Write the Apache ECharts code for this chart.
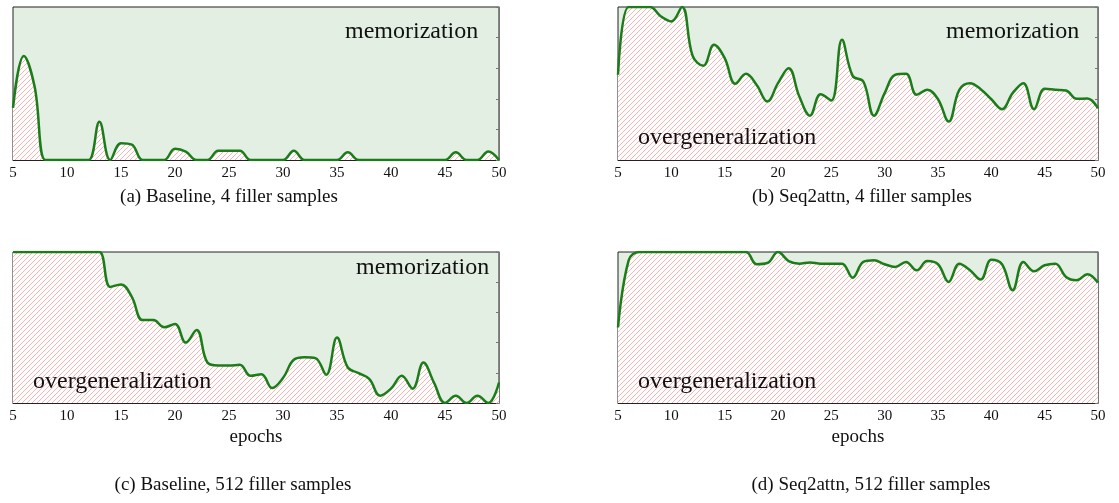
<!DOCTYPE html>
<html>
<head>
<meta charset="utf-8">
<script src="https://cdn.jsdelivr.net/npm/echarts@6/dist/echarts.min.js"></script>
<style>
  html, body { margin: 0; padding: 0; background: #fff; }
  #main { width: 1119px; height: 503px; }
</style>
</head>
<body>
<div id="main"></div>
<script>
// epochs on the x axis
var epochs = [5,6,7,8,9,10,11,12,13,14,15,16,17,18,19,20,21,22,23,24,25,26,27,28,29,30,
  31,32,33,34,35,36,37,38,39,40,41,42,43,44,45,46,47,48,49,50];
var xTicks = [5,10,15,20,25,30,35,40,45,50];

// (a) Baseline, 4 filler samples
var baseline4 = [0.34,0.68,0.48,0,0,0,0,0,0.25,0,0.11,0.10,0,0,0,0.074,0.055,0,0,0.06,
  0.06,0.06,0,0,0,0,0.06,0,0,0,0,0.05,0,0,0,0,0,0,0,0,0,0.05,0,0,0.055,0];
// (b) Seq2attn, 4 filler samples
var seq2attn4 = [0.557,1,1,1,0.94,0.906,1,0.68,0.616,0.753,0.666,0.498,0.563,0.49,0.382,
  0.502,0.60,0.415,0.29,0.43,0.389,0.786,0.55,0.513,0.29,0.437,0.557,0.563,0.426,0.459,
  0.397,0.251,0.459,0.502,0.463,0.397,0.332,0.437,0.502,0.332,0.465,0.459,0.454,0.40,0.402,0.338];
// (c) Baseline, 512 filler samples
var baseline512 = [1,1,1,1,1,1,1,1,1,0.769,0.785,0.703,0.549,0.549,0.501,0.523,0.40,0.484,
  0.268,0.248,0.248,0.253,0.18,0.191,0.099,0.165,0.286,0.303,0.297,0.187,0.433,0.235,0.198,
  0.158,0.048,0.095,0.18,0.095,0.268,0.132,0,0.048,0,0.048,0,0.136];
// (d) Seq2attn, 512 filler samples
var seq2attn512 = [0.50,0.945,1,1,1,1,1,1,1,1,1,1,1,0.919,0.927,1,0.94,0.923,0.93,0.923,
  0.923,0.923,0.83,0.934,0.945,0.919,0.901,0.934,0.879,0.94,0.919,0.802,0.923,0.879,0.818,
  0.949,0.919,0.747,0.934,0.872,0.912,0.923,0.835,0.813,0.853,0.796];

var captions = ['(a) Baseline, 4 filler samples', '(b) Seq2attn, 4 filler samples',
  '(c) Baseline, 512 filler samples', '(d) Seq2attn, 512 filler samples'];

var serif = '"Liberation Serif", "DejaVu Serif", serif';
var green = '#1a7d1a';
var bgGreen = '#e3efe2';

// light red diagonal hatching for the area under the curve
function hatch(){
  var s = 5;
  var c = document.createElement('canvas');
  c.width = s; c.height = s;
  var ctx = c.getContext('2d');
  ctx.fillStyle = '#ffffff';
  ctx.fillRect(0, 0, s, s);
  ctx.fillStyle = '#ffb0b0';
  for (var x = 0; x < s; x++) {
    ctx.fillRect(x, s - 1 - x, 1, 1);
  }
  return c.toDataURL();
}
var hatchImg = new Image();
hatchImg.src = hatch();

function pairs(vals){
  return epochs.map(function(e, i){ return [e, vals[i]]; });
}

var grids = [
  {left: 13, top: 7, width: 486, height: 153},
  {left: 618, top: 7, width: 480, height: 153},
  {left: 13, top: 252, width: 486, height: 151},
  {left: 618, top: 252, width: 480, height: 151}
];
var allData = [baseline4, seq2attn4, baseline512, seq2attn512];

function label(txt, left, top){
  return {type: 'text', left: left, top: top, z: 100,
    style: {text: txt, font: '24px ' + serif, fill: '#111'}};
}
function caption(txt, x, y){
  return {type: 'text', x: x, y: y, z: 100,
    style: {text: txt, font: '19px ' + serif, fill: '#111', align: 'center', verticalAlign: 'middle'}};
}

function draw(){
  var option = {
    animation: false,
    backgroundColor: '#fff',
    grid: grids.map(function(g){
      return Object.assign({show: true, backgroundColor: bgGreen, borderColor: '#222', borderWidth: 1}, g);
    }),
    xAxis: grids.map(function(g, i){
      return {
        type: 'value', gridIndex: i, min: 5, max: 50, interval: 5,
        axisLine: {show: true, onZero: false, lineStyle: {color: '#222', width: 1}},
        axisTick: {show: false},
        splitLine: {show: false},
        axisLabel: {fontFamily: serif, fontSize: 15, color: '#111', margin: 6,
          customValues: xTicks},
        name: i >= 2 ? 'epochs' : '',
        nameLocation: 'middle', nameGap: 25,
        nameTextStyle: {fontFamily: serif, fontSize: 19, color: '#111'}
      };
    }),
    yAxis: grids.map(function(g, i){
      return {
        type: 'value', gridIndex: i, min: 0, max: 1, interval: 0.2, position: 'right',
        axisLine: {show: true, lineStyle: {color: '#777'}},
        axisTick: {show: true, inside: true, length: 3, lineStyle: {color: '#777'}},
        axisLabel: {show: false},
        splitLine: {show: false}
      };
    }),
    series: allData.map(function(vals, i){
      return {
        type: 'line', xAxisIndex: i, yAxisIndex: i,
        data: pairs(vals),
        smooth: 0.4,
        symbol: 'none',
        clip: true,
        lineStyle: {color: green, width: 2.5},
        areaStyle: {color: {image: hatchImg, repeat: 'repeat'}, opacity: 1}
      };
    }),
    graphic: [
      label('memorization', 345, 20),
      label('memorization', 946, 20),
      label('memorization', 356, 256),
      label('overgeneralization', 638, 126),
      label('overgeneralization', 33, 370),
      label('overgeneralization', 638, 370),
      caption(captions[0], 229, 197),
      caption(captions[1], 862, 197),
      caption(captions[2], 233, 485),
      caption(captions[3], 871, 485)
    ]
  };
  var chart = echarts.init(document.getElementById('main'));
  chart.setOption(option);
}

if (hatchImg.complete) { draw(); } else { hatchImg.onload = draw; }
</script>
</body>
</html>
